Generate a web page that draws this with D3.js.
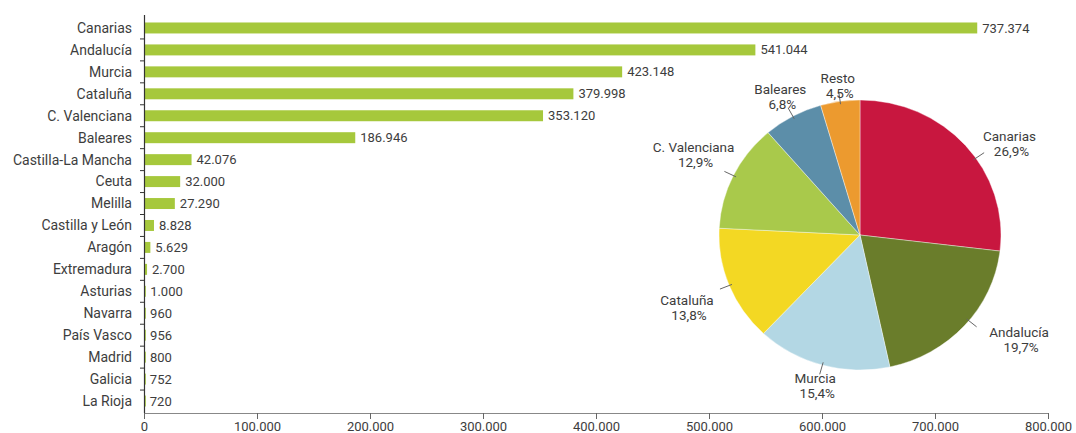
<!DOCTYPE html>
<html><head><meta charset="utf-8">
<script src="https://cdn.jsdelivr.net/npm/d3@7"></script>
<style>
html,body{margin:0;padding:0;background:#fff;}
svg{display:block;font-family:Roboto,"DejaVu Sans",sans-serif;}
</style></head>
<body>
<svg id="c" width="1076" height="433"></svg>
<script>
const regions = ["Canarias","Andalucía","Murcia","Cataluña","C. Valenciana","Baleares","Castilla-La Mancha","Ceuta","Melilla","Castilla y León","Aragón","Extremadura","Asturias","Navarra","País Vasco","Madrid","Galicia","La Rioja"];
const values = [737374,541044,423148,379998,353120,186946,42076,32000,27290,8828,5629,2700,1000,960,956,800,752,720];
const xTicks = [0,100000,200000,300000,400000,500000,600000,700000,800000];
const pieLabels = ["Canarias","Andalucía","Murcia","Cataluña","C. Valenciana","Baleares","Resto"];
const piePercents = [26.9,19.7,15.4,13.8,12.9,6.8,4.5];
const pieColors = ["#c8173f","#6a7d2b","#b3d7e4","#f3d823","#a9c94b","#5c8ea9","#ec9a2f"];

const loc = d3.formatLocale({decimal:",",thousands:".",grouping:[3],currency:["","€"]});
const fmt = loc.format(",d");
const pfmt = v => loc.format(".1f")(v) + "%";

const svg = d3.select("#c");
const textColor = "#3d3d3d";
const x = d3.scaleLinear().domain([0,800000]).range([144,1048]);
const y = d3.scaleBand().domain(regions).range([17,412]).paddingInner(0.5).paddingOuter(0.25);

// bars
svg.append("g").selectAll("rect").data(values).join("rect")
  .attr("x", x(0)+1).attr("y",(d,i)=>y(regions[i]))
  .attr("width", d=>Math.max(0.8, x(d)-x(0)-1)).attr("height", y.bandwidth())
  .attr("fill","#a6c83c");

svg.append("g").selectAll("text").data(values).join("text")
  .attr("x", d=>x(d)+5).attr("y",(d,i)=>y(regions[i])+y.bandwidth()/2)
  .attr("dy","0.35em").attr("font-size",13).attr("fill",textColor)
  .text(d=>fmt(d));

// y axis
const step = y.step();
const y0 = 17;
const gy = svg.append("g");
gy.append("line").attr("x1",144.5).attr("x2",144.5).attr("y1",15).attr("y2",413).attr("stroke","#333").attr("stroke-width",1.2);
gy.selectAll("line.t").data(d3.range(1,regions.length)).join("line").attr("class","t")
  .attr("x1",140).attr("x2",144.5).attr("y1",k=>y0+k*step).attr("y2",k=>y0+k*step)
  .attr("stroke","#333").attr("stroke-width",1);
gy.selectAll("text").data(regions).join("text")
  .attr("x",132).attr("y",d=>y(d)+y.bandwidth()/2).attr("dy","0.35em")
  .attr("text-anchor","end").attr("font-size",14).attr("fill",textColor).text(d=>d);

// x axis
const gx = svg.append("g").attr("transform","translate(0,413)")
  .call(d3.axisBottom(x).tickValues(xTicks).tickFormat(fmt).tickSize(6).tickPadding(3).tickSizeOuter(0));
gx.select(".domain").attr("stroke","#888");
gx.selectAll(".tick line").attr("stroke","#666");
gx.selectAll(".tick text").attr("font-size",13).attr("fill",textColor).attr("font-family","Roboto,sans-serif");

// pie
const cx = 860, cy = 235, R = 141, sy = 135/141;
const pie = d3.pie().sort(null).value(d=>d)(piePercents);
const arc = d3.arc().innerRadius(0).outerRadius(R);
const gp = svg.append("g").attr("transform",`translate(${cx},${cy}) scale(1,${sy})`);
gp.selectAll("path").data(pie).join("path").attr("d",arc)
  .attr("fill",(d,i)=>pieColors[i]).attr("stroke","#fff").attr("stroke-width",0.4);

// label layout styling: half label width, nudge and leader angle shift
const halfW = [26,30,20,27,40,26,17];
const nudge = [[19,20],[28,-9],[-2,3],[-6,8],[5,0],[0,3],[0,0]];
const leadShift = [0.12,-0.05,0,0,0,0,0];
pie.forEach((d,i)=>{
  const a = (d.startAngle+d.endAngle)/2;
  const la = a + leadShift[i];
  const ls = Math.sin(la), lc = Math.cos(la);
  svg.append("line")
    .attr("x1",cx+ls*(R-3)).attr("y1",cy-lc*(R-3)*sy)
    .attr("x2",cx+ls*(R+10)).attr("y2",cy-lc*(R+10)*sy)
    .attr("stroke","#666").attr("stroke-width",1);
  const s = Math.sin(a), c = Math.cos(a);
  const dist = R+14+Math.abs(s)*halfW[i];
  const lx = cx+s*dist+nudge[i][0], ly = cy-c*dist*sy+nudge[i][1];
  const t = svg.append("text").attr("text-anchor","middle").attr("font-size",13.5).attr("fill",textColor);
  t.append("tspan").attr("x",lx).attr("y",ly-7.5).attr("dy","0.35em").text(pieLabels[i]);
  t.append("tspan").attr("x",lx+2).attr("y",ly+7.5).attr("dy","0.35em").text(pfmt(piePercents[i]));
});
</script>
</body></html>
